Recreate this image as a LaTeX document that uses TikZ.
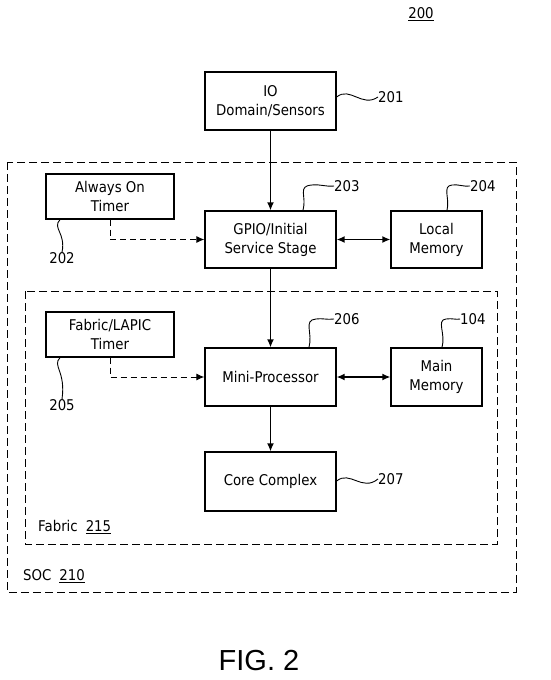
\documentclass[tikz,border=0pt]{standalone}
\usepackage{fontspec}
\setmainfont{DejaVu Sans}[FakeStretch=0.9]
\newfontfamily\figfont{Liberation Sans}
\usetikzlibrary{arrows.meta,shadows}
\begin{document}
\begin{tikzpicture}[x=1pt,y=-1pt,
  font=\fontsize{14.8}{19}\selectfont,
  blk/.style={draw,line width=1.3pt,fill=white,align=center,inner sep=0pt,
    drop shadow={shadow xshift=1.3pt,shadow yshift=-1.3pt,fill=black,opacity=1}},
  region/.style={draw,line width=1pt,dash pattern=on 8pt off 4pt},
  conn/.style={line width=1.4pt,-{Latex[length=8pt,width=7pt]}},
  biconn/.style={line width=1.4pt,{Latex[length=8pt,width=7pt]}-{Latex[length=8pt,width=7pt]}},
  dconn/.style={line width=1pt,dash pattern=on 6pt off 4pt,-{Latex[length=8pt,width=7pt]}},
  lead/.style={line width=0.9pt},
  num/.style={inner sep=0pt}]
\useasboundingbox (0,0) rectangle (551,680);
% regions
\draw[region] (7,162) rectangle (516,592);
\draw[region] (25,291) rectangle (497,544);
% blocks
\node[blk,minimum width=131pt,minimum height=58pt] (io) at (270.5,101) {IO\\Domain/Sensors};
\node[blk,minimum width=128pt,minimum height=45pt] (aot) at (110,196.5) {Always On\\Timer};
\node[blk,minimum width=131pt,minimum height=57pt] (gpio) at (270.5,239.5) {GPIO/Initial\\Service Stage};
\node[blk,minimum width=91pt,minimum height=57pt] (lm) at (436.5,239.5) {Local\\Memory};
\node[blk,minimum width=128pt,minimum height=45pt] (flt) at (110,334.5) {Fabric/LAPIC\\Timer};
\node[blk,minimum width=131pt,minimum height=58pt] (mp) at (270.5,377) {Mini-Processor};
\node[blk,minimum width=91pt,minimum height=58pt] (mm) at (436.5,377) {Main\\Memory};
\node[blk,minimum width=131pt,minimum height=59pt] (cc) at (270.5,481.5) {Core Complex};
% connectors
\draw[conn] (io.south) -- (gpio.north);
\draw[conn] (gpio.south) -- (mp.north);
\draw[conn] (mp.south) -- (cc.north);
\draw[biconn] (gpio.east) -- (lm.west);
\draw[biconn] (mp.east) -- (mm.west);
\draw[dconn] (aot.south) |- (gpio.west);
\draw[dconn] (flt.south) |- (mp.west);
% leaders and numbers
\node[num,anchor=west] (n201) at (378,97) {201};
\draw[lead] (io.east |- 0,97) .. controls (350,86) and (362,108) .. (n201.west);
\node[num,anchor=west] (n203) at (334,186) {203};
\draw[lead] (gpio.north -| 303,0) .. controls (307,196) and (297,186) .. (312,185) .. controls (320,184) and (326,187) .. (n203.west);
\node[num,anchor=west] (n204) at (470,186) {204};
\draw[lead] (lm.north -| 447,0) .. controls (450,198) and (442,186) .. (452,185) .. controls (458,184) and (464,187) .. (n204.west);
\node[num] (n202) at (62,258) {202};
\draw[lead] (aot.south -| 60,0) .. controls (52,228) and (66,233) .. (n202.north);
\node[num,anchor=west] (n206) at (334,319) {206};
\draw[lead] (mp.north -| 309,0) .. controls (313,333) and (303,320) .. (316,319) .. controls (322,318) and (327,320) .. (n206.west);
\node[num,anchor=west] (n104) at (460,319) {104};
\draw[lead] (mm.north -| 442,0) .. controls (446,334) and (436,320) .. (446,319) .. controls (452,318) and (456,320) .. (n104.west);
\node[num] (n205) at (62,405) {205};
\draw[lead] (flt.south -| 60,0) .. controls (52,366) and (66,371) .. (n205.north);
\node[num,anchor=west] (n207) at (378,479) {207};
\draw[lead] (cc.east |- 0,481) .. controls (350,470) and (362,492) .. (n207.west);
% region labels
\node[num,anchor=west] (fab) at (38,527) {Fabric\hspace{8pt}\underline{215}};
\node[num,anchor=west] (soc) at (23,576) {SOC\hspace{8pt}\underline{210}};
\node[num] (n200) at (421,14) {\underline{200}};
\node[num] (fig) at (259,661) {\figfont\fontsize{29}{32}\selectfont FIG. 2};
\end{tikzpicture}
\end{document}
